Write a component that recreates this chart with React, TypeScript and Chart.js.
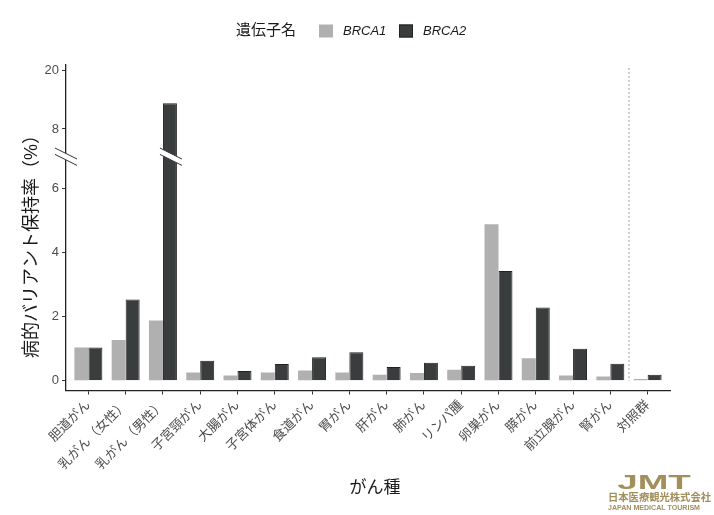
import React, { useEffect, useRef } from 'react';
import { Chart, registerables } from 'chart.js';

Chart.register(...registerables);

const categories = [
  '胆道がん', '乳がん（女性）', '乳がん（男性）', '子宮頸がん', '大腸がん', '子宮体がん',
  '食道がん', '胃がん', '肝がん', '肺がん', 'リンパ腫', '卵巣がん', '膵がん',
  '前立腺がん', '腎がん', '対照群',
];
const geneNames = ['BRCA1', 'BRCA2'];
const brca1 = [1.04, 1.27, 1.88, 0.26, 0.16, 0.26, 0.32, 0.26, 0.19, 0.24, 0.34, 4.89, 0.70, 0.16, 0.13, 0.05];
const brca2 = [1.04, 2.54, 13.3, 0.62, 0.30, 0.52, 0.73, 0.89, 0.43, 0.56, 0.47, 3.43, 2.29, 1.00, 0.53, 0.19];
const yTickValues = [0, 2, 4, 6, 8, 20];

const BREAK_AT = 7;        // axis is cut between 7 and 8
const UPPER_BASE = 7.866;  // display position of 8 on the compressed part
const UPPER_SCALE = 0.152; // display units per % above the cut
const SEPARATOR_AT = 14.5; // dotted line before the control group

const colors = ['#b0b0b0', '#393d3d'];
const FONT = "'Liberation Sans', 'Noto Sans CJK JP', sans-serif";

// broken y axis: values are mapped to display units before plotting
const toDisplay = (v: number) => (v <= BREAK_AT ? v : UPPER_BASE + (v - 8) * UPPER_SCALE);

const drawBreak = (ctx: CanvasRenderingContext2D, xc: number, yc: number) => {
  const hw = 11, slope = 0.5, gap = 3.2;
  ctx.save();
  ctx.beginPath();
  ctx.moveTo(xc - hw, yc - slope * hw - gap);
  ctx.lineTo(xc + hw, yc + slope * hw - gap);
  ctx.lineTo(xc + hw, yc + slope * hw + gap);
  ctx.lineTo(xc - hw, yc - slope * hw + gap);
  ctx.closePath();
  ctx.fillStyle = '#ffffff';
  ctx.fill();
  ctx.strokeStyle = '#333333';
  ctx.lineWidth = 1;
  ctx.beginPath();
  ctx.moveTo(xc - hw, yc - slope * hw - gap);
  ctx.lineTo(xc + hw, yc + slope * hw - gap);
  ctx.moveTo(xc - hw, yc - slope * hw + gap);
  ctx.lineTo(xc + hw, yc + slope * hw + gap);
  ctx.stroke();
  ctx.restore();
};

const overlayPlugin = {
  id: 'overlay',
  afterDatasetsDraw(chart: any) {
    const { ctx, chartArea, scales } = chart;
    const xs = scales.x, ys = scales.y;

    // dotted separator
    const sx = xs.getPixelForValue(SEPARATOR_AT);
    ctx.save();
    ctx.strokeStyle = '#a0a0a0';
    ctx.lineWidth = 1;
    ctx.setLineDash([2, 2]);
    ctx.beginPath();
    ctx.moveTo(sx, chartArea.top + 3);
    ctx.lineTo(sx, ys.getPixelForValue(0));
    ctx.stroke();
    ctx.restore();

    // break marks on the axis and on bars crossing the cut
    const by = ys.getPixelForValue(BREAK_AT);
    drawBreak(ctx, chartArea.left, by);
    [brca1, brca2].forEach((vals, di) => {
      chart.getDatasetMeta(di).data.forEach((bar: any, i: number) => {
        if (vals[i] > BREAK_AT) drawBreak(ctx, bar.x + 1, by);
      });
    });
  },
  afterDraw(chart: any) {
    const { ctx } = chart;
    ctx.save();
    ctx.fillStyle = '#1a1a1a';
    ctx.textBaseline = 'middle';

    // axis titles
    ctx.font = `17px ${FONT}`;
    ctx.textAlign = 'center';
    ctx.fillText('がん種', 375, 488);
    ctx.save();
    ctx.translate(32, 242);
    ctx.rotate(-Math.PI / 2);
    ctx.font = `18px ${FONT}`;
    ctx.fillText('病的バリアント保持率（%）', 0, 0);
    ctx.restore();

    // legend
    ctx.textAlign = 'left';
    ctx.font = `15px ${FONT}`;
    ctx.fillText('遺伝子名', 236, 31);
    const boxX = [319, 399];
    geneNames.forEach((name, i) => {
      ctx.fillStyle = colors[i];
      ctx.fillRect(boxX[i], 24.5, 14, 13);
      if (i === 1) {
        ctx.strokeStyle = '#222';
        ctx.lineWidth = 1;
        ctx.strokeRect(boxX[i] + 0.5, 25, 13, 12);
      }
      ctx.fillStyle = '#1a1a1a';
      ctx.font = `italic 13px ${FONT}`;
      ctx.fillText(name, boxX[i] + 24, 31.5);
    });

    // logo
    ctx.fillStyle = '#a38f5c';
    ctx.textAlign = 'center';
    ctx.textBaseline = 'alphabetic';
    ctx.save();
    ctx.translate(654, 488.5);
    ctx.scale(1.75, 1);
    ctx.font = `bold 21px ${FONT}`;
    ctx.fillText('JMT', 0, 0);
    ctx.restore();
    ctx.textBaseline = 'middle';
    ctx.font = `bold 10.3px 'Noto Sans CJK JP', sans-serif`;
    ctx.fillText('日本医療観光株式会社', 659.5, 497);
    ctx.font = `bold 8px ${FONT}`;
    ctx.fillText('JAPAN MEDICAL TOURISM', 654, 508, 92);
    ctx.restore();
  },
};

const App: React.FC = () => {
  const chartRef = useRef<HTMLCanvasElement>(null);
  const chartInstanceRef = useRef<Chart | null>(null);

  useEffect(() => {
    document.body.style.margin = '0';
    if (!chartRef.current) return;
    const ctx = chartRef.current.getContext('2d');
    if (!ctx) return;

    chartInstanceRef.current = new Chart(ctx, {
      type: 'bar',
      data: {
        datasets: [
          {
            label: geneNames[0],
            data: brca1.map((v, i) => ({ x: i, y: toDisplay(v) })),
            backgroundColor: colors[0],
            borderWidth: 0,
          },
          {
            label: geneNames[1],
            data: brca2.map((v, i) => ({ x: i, y: toDisplay(v) })),
            backgroundColor: colors[1],
            borderColor: '#222',
            borderWidth: 1,
          },
        ],
      },
      options: {
        animation: false,
        responsive: false,
        maintainAspectRatio: false,
        categoryPercentage: 0.75,
        barPercentage: 1,
        layout: { padding: { top: 65, right: 44, bottom: 0, left: 0 } },
        plugins: {
          legend: { display: false },
          tooltip: { enabled: false },
        },
        scales: {
          x: {
            type: 'linear',
            offset: false,
            min: -0.6,
            max: 15.6,
            afterBuildTicks: (scale: any) => {
              scale.ticks = categories.map((_, i) => ({ value: i }));
            },
            afterFit: (scale: any) => {
              scale.height = 124.5;
            },
            ticks: {
              autoSkip: false,
              minRotation: 45,
              maxRotation: 45,
              padding: 3,
              color: '#4d4d4d',
              font: { family: FONT, size: 13 },
              callback: (v: any) => categories[v] ?? '',
            },
            grid: { offset: false, drawOnChartArea: false, drawTicks: true, tickLength: 4, color: '#333' },
            border: { display: true, color: '#222', width: 1.3 },
          },
          y: {
            type: 'linear',
            min: -0.306,
            max: 9.866,
            afterBuildTicks: (scale: any) => {
              scale.ticks = yTickValues.map(v => ({ value: toDisplay(v) }));
            },
            afterFit: (scale: any) => {
              scale.width = 66;
            },
            ticks: {
              padding: 3,
              color: '#4d4d4d',
              font: { family: FONT, size: 13 },
              callback: (_v: any, idx: number) => String(yTickValues[idx]),
            },
            grid: { drawOnChartArea: false, drawTicks: true, tickLength: 4, color: '#333' },
            border: { display: true, color: '#222', width: 1.3 },
          },
        },
      },
      plugins: [overlayPlugin],
    } as any);

    return () => {
      if (chartInstanceRef.current) {
        chartInstanceRef.current.destroy();
      }
    };
  }, []);

  return (
    <div style={{ width: 714, height: 515, background: '#fff' }}>
      <canvas ref={chartRef} width={714} height={515} style={{ display: 'block' }} />
    </div>
  );
};

export default App;
